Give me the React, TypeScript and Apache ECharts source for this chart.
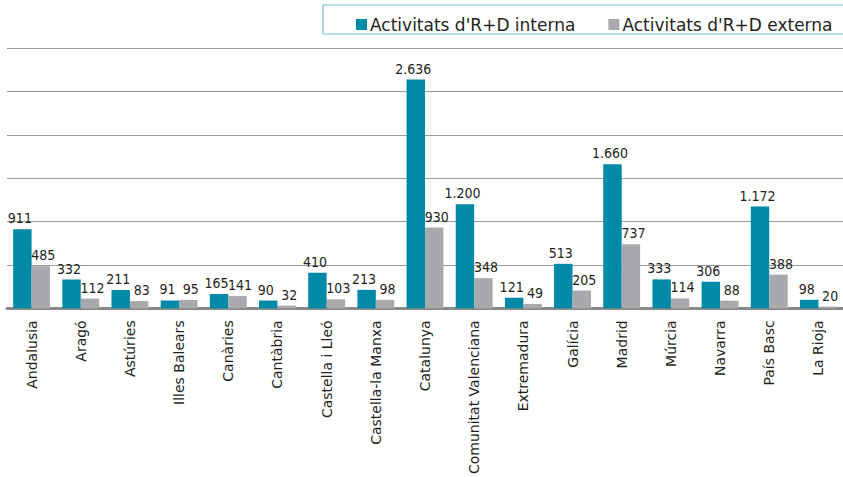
import React, { useEffect, useRef } from "react";
import * as echarts from "echarts";

const categories = [
  "Andalusia", "Aragó", "Astúries", "Illes Balears", "Canàries", "Cantàbria",
  "Castella i Lleó", "Castella-la Manxa", "Catalunya", "Comunitat Valenciana",
  "Extremadura", "Galícia", "Madrid", "Múrcia", "Navarra", "País Basc", "La Rioja",
];
const interna = [911, 332, 211, 91, 165, 90, 410, 213, 2636, 1200, 121, 513, 1660, 333, 306, 1172, 98];
const externa = [485, 112, 83, 95, 141, 32, 103, 98, 930, 348, 49, 205, 737, 114, 88, 388, 20];
const seriesNames = ["Activitats d'R+D interna", "Activitats d'R+D externa"];

const fmt = (v: number) => String(v).replace(/\B(?=(\d{3})+(?!\d))/g, ".");

export default function App() {
  const ref = useRef<HTMLDivElement>(null);
  useEffect(() => {
    if (!ref.current) return;
    const chart = echarts.init(ref.current, null, { renderer: "svg" });
    const labelStyle = (dx: number) => ({
      show: true,
      position: "top" as const,
      distance: 4,
      offset: [dx, 0],
      color: "#231f20",
      fontSize: 14,
      fontFamily: "'DejaVu Sans Condensed', sans-serif",
      formatter: (p: any) => fmt(p.value),
    });
    chart.setOption({
      animation: false,
      backgroundColor: "#ffffff",
      graphic: [
        {
          type: "rect",
          shape: { x: 323, y: 5, width: 540, height: 29 },
          style: { fill: "none", stroke: "#7cbfd1", lineWidth: 1.2 },
          silent: true,
        },
      ],
      legend: {
        left: 351,
        top: 11,
        itemWidth: 11,
        itemHeight: 11,
        itemGap: 33,
        icon: "rect",
        textStyle: {
          fontSize: 17,
          fontFamily: "'DejaVu Sans', sans-serif",
          color: "#231f20",
          padding: [0, 0, 0, -2],
        },
        data: seriesNames,
      },
      grid: { left: 7, top: 48, width: 839, bottom: 166, containLabel: false },
      xAxis: {
        type: "category",
        data: categories,
        axisLine: { show: true, lineStyle: { color: "#8a8a8a", width: 3 } },
        axisTick: { show: false },
        axisLabel: {
          rotate: 90,
          interval: 0,
          margin: 12,
          color: "#231f20",
          fontSize: 14,
          fontFamily: "'DejaVu Sans', sans-serif",
        },
      },
      yAxis: {
        type: "value",
        min: 0,
        max: 3000,
        interval: 500,
        axisLabel: { show: false },
        axisLine: { show: false },
        axisTick: { show: false },
        splitLine: { show: true, lineStyle: { color: "#9a9a9a", width: 1 } },
      },
      series: [
        {
          name: seriesNames[0],
          type: "bar",
          data: interna,
          itemStyle: { color: "#008aa8" },
          barGap: "0%",
          barCategoryGap: "25%",
          label: labelStyle(-2.5),
        },
        {
          name: seriesNames[1],
          type: "bar",
          data: externa,
          itemStyle: { color: "#a8a9ad" },
          barGap: "0%",
          barCategoryGap: "25%",
          label: labelStyle(2.5),
        },
      ],
    });
    return () => chart.dispose();
  }, []);
  return <div ref={ref} style={{ width: 843, height: 477, position: "absolute", left: 0, top: 0 }} />;
}
